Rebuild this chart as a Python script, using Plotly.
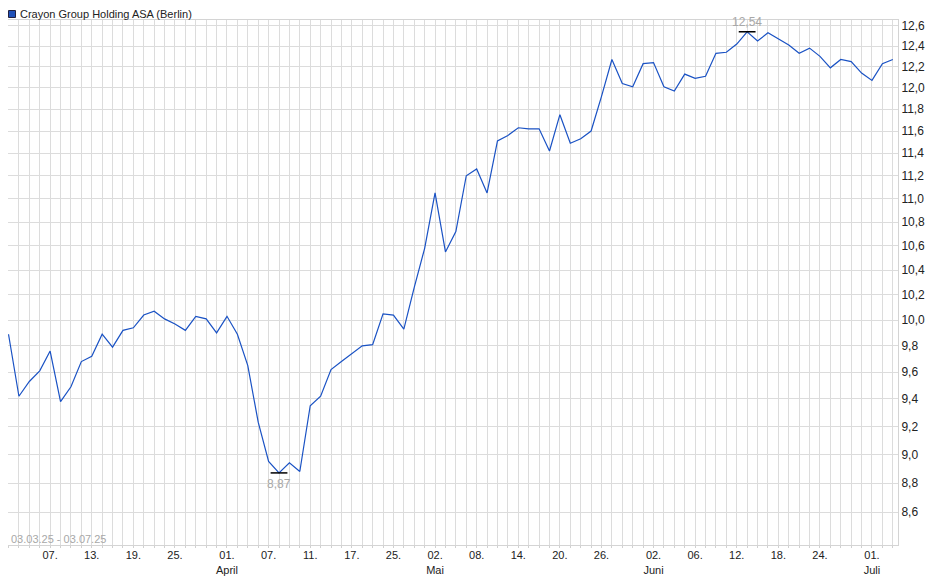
import numpy as np
import pandas as pd
import plotly.graph_objects as go

# trading days Berlin, 03.03.25 - 03.07.25 (Karfreitag, Ostermontag, 1. Mai closed)
holidays = ["2025-04-18", "2025-04-21", "2025-05-01"]
days = [d for d in pd.bdate_range("2025-03-03", "2025-07-03").strftime("%Y-%m-%d") if d not in holidays]

prices = [
    9.89, 9.42, 9.53, 9.61, 9.76, 9.38, 9.49, 9.68, 9.72, 9.89,
    9.79, 9.92, 9.94, 10.04, 10.07, 10.01, 9.97, 9.92, 10.03, 10.01,
    9.90, 10.03, 9.89, 9.65, 9.23, 8.95, 8.87, 8.94, 8.88, 9.35,
    9.42, 9.62, 9.68, 9.74, 9.80, 9.81, 10.05, 10.04, 9.93, 10.26,
    10.58, 11.05, 10.55, 10.72, 11.20, 11.26, 11.05, 11.51, 11.56, 11.63,
    11.62, 11.62, 11.42, 11.75, 11.49, 11.53, 11.60, 11.92, 12.27, 12.04,
    12.01, 12.23, 12.24, 12.01, 11.97, 12.13, 12.09, 12.11, 12.33, 12.34,
    12.42, 12.54, 12.45, 12.53, 12.47, 12.41, 12.33, 12.38, 12.30, 12.19,
    12.27, 12.25, 12.14, 12.07, 12.23, 12.27,
]

tick_labels = {
    "2025-03-07": "07.", "2025-03-13": "13.", "2025-03-19": "19.", "2025-03-25": "25.",
    "2025-04-01": "01.<br>April", "2025-04-07": "07.", "2025-04-11": "11.", "2025-04-17": "17.",
    "2025-04-25": "25.", "2025-05-02": "02.<br>Mai", "2025-05-08": "08.", "2025-05-14": "14.",
    "2025-05-20": "20.", "2025-05-26": "26.", "2025-06-02": "02.<br>Juni", "2025-06-06": "06.",
    "2025-06-12": "12.", "2025-06-18": "18.", "2025-06-24": "24.", "2025-07-01": "01.<br>Juli",
}
y_ticks = [8.6, 8.8, 9.0, 9.2, 9.4, 9.6, 9.8, 10.0, 10.2, 10.4, 10.6,
           10.8, 11.0, 11.2, 11.4, 11.6, 11.8, 12.0, 12.2, 12.4, 12.6]

FONT = "Liberation Sans, Arial, sans-serif"
# page has an 8px body margin, so the figure is drawn 8px smaller
W, H = 932, 571
L, R, T, B = 0, 42, 12, 34

def px(x):
    return (x - L) / (W - L - R)

def py(y):
    return (H - B - y) / (H - T - B)

fig = go.Figure()

fig.add_trace(go.Scatter(
    x=days, y=prices, mode="lines",
    line=dict(color="#1a52c4", width=1.2),
    hoverinfo="x+y", showlegend=False, cliponaxis=False,
))

# min / max markers
i_min, i_max = int(np.argmin(prices)), int(np.argmax(prices))
fig.add_trace(go.Scatter(
    x=[days[i_min], days[i_max]], y=[prices[i_min], prices[i_max]],
    mode="markers",
    marker=dict(symbol="line-ew", size=12, line=dict(color="black", width=1.5)),
    cliponaxis=False, showlegend=False, hoverinfo="skip",
))
for i, shift in ((i_min, -11), (i_max, 10)):
    fig.add_annotation(x=days[i], y=np.log10(prices[i]), yshift=shift,
                       xanchor="center", yanchor="middle", showarrow=False,
                       text=f"{prices[i]:.2f}".replace(".", ","),
                       font=dict(family=FONT, size=12, color="#a8a8a8"))

fig.update_layout(
    width=W, height=H,
    margin=dict(l=L, r=R, t=T, b=B, pad=0),
    paper_bgcolor="white", plot_bgcolor="white",
    separators=",.",
    font=dict(family=FONT, size=11, color="#222222"),
    xaxis=dict(
        type="category", range=[-0.05, len(days) - 0.5],
        tickmode="array", tickvals=days,
        ticktext=[tick_labels.get(d, "") for d in days],
        showgrid=True, gridcolor="#dcdcdc", gridwidth=1,
        ticks="outside", ticklen=2, tickcolor="#d0d0d0",
        ticklabelstandoff=-2,
        showline=True, linecolor="#d4d4d4", mirror=True,
        tickfont=dict(family=FONT, size=11, color="#222222"),
        zeroline=False, fixedrange=True,
    ),
    yaxis=dict(
        type="log", side="right",
        range=[0.92335, 1.10231],
        tickmode="array", tickvals=y_ticks,
        ticktext=[f"{v:.1f}".replace(".", ",") for v in y_ticks],
        showgrid=True, gridcolor="#dcdcdc", gridwidth=1,
        ticks="", showline=True, linecolor="#d4d4d4", mirror=True,
        tickfont=dict(family=FONT, size=12, color="#222222"),
        zeroline=False, fixedrange=True,
    ),
)

# legend box + title
fig.add_shape(type="rect", xref="paper", yref="paper",
              x0=px(0.5), x1=px(7.5), y0=py(9.5), y1=py(2.5),
              fillcolor="#1f50b8", line=dict(color="#202040", width=1))
fig.add_annotation(xref="paper", yref="paper", x=px(10), y=py(6.5),
                   xanchor="left", yanchor="middle", showarrow=False,
                   text="Crayon Group Holding ASA (Berlin)",
                   font=dict(family=FONT, size=11, color="#222222"))

# period label
fig.add_annotation(xref="paper", yref="paper", x=px(1), y=py(530.5),
                   xanchor="left", yanchor="middle", showarrow=False,
                   text="03.03.25 - 03.07.25",
                   font=dict(family=FONT, size=11, color="#a8a8a8"))

fig.write_html("out.html")
